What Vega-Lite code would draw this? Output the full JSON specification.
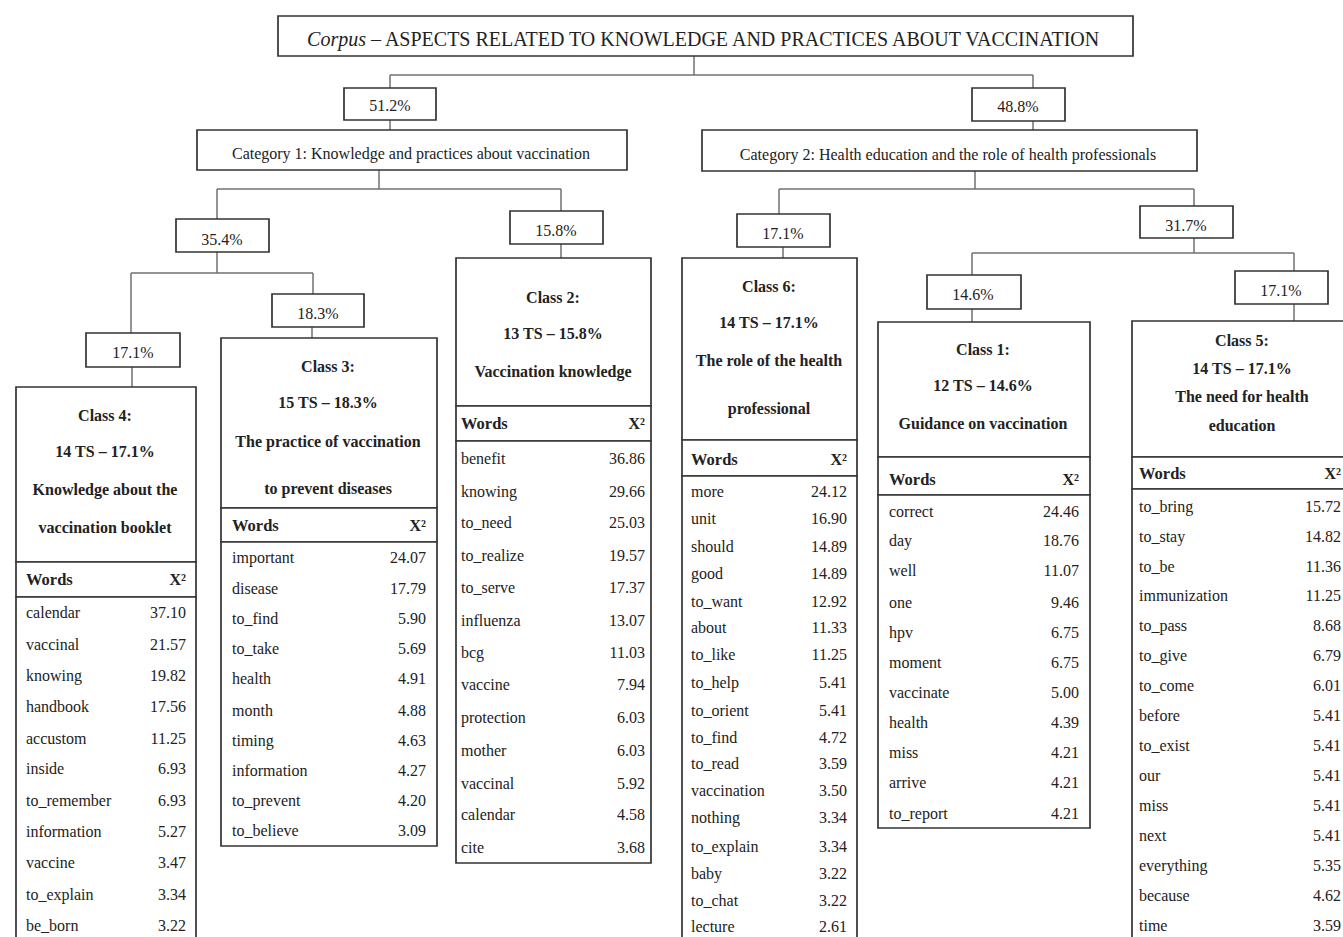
{
  "$schema": "https://vega.github.io/schema/vega-lite/v6.json",
  "width": 1343,
  "height": 937,
  "autosize": {"type": "none"},
  "padding": 0,
  "background": "white",
  "config": {"view": {"stroke": null}, "text": {"font": "Liberation Serif", "color": "#222222", "fontSize": 16, "baseline": "middle"}},
  "datasets": {
    "links": [
      {"x": 694, "y": 56, "x2": 694, "y2": 75},
      {"x": 390, "y": 75, "x2": 1033, "y2": 75},
      {"x": 390, "y": 75, "x2": 390, "y2": 88},
      {"x": 1033, "y": 75, "x2": 1033, "y2": 88},
      {"x": 390, "y": 120, "x2": 390, "y2": 130},
      {"x": 1033, "y": 121, "x2": 1033, "y2": 130},
      {"x": 379, "y": 170, "x2": 379, "y2": 189},
      {"x": 217, "y": 189, "x2": 561, "y2": 189},
      {"x": 217, "y": 189, "x2": 217, "y2": 219},
      {"x": 561, "y": 189, "x2": 561, "y2": 211},
      {"x": 561, "y": 244, "x2": 561, "y2": 258},
      {"x": 975, "y": 171, "x2": 975, "y2": 189},
      {"x": 779, "y": 189, "x2": 1194, "y2": 189},
      {"x": 779, "y": 189, "x2": 779, "y2": 214},
      {"x": 1194, "y": 189, "x2": 1194, "y2": 206},
      {"x": 783, "y": 247, "x2": 783, "y2": 258},
      {"x": 217, "y": 252, "x2": 217, "y2": 273},
      {"x": 131, "y": 273, "x2": 313, "y2": 273},
      {"x": 131, "y": 273, "x2": 131, "y2": 333},
      {"x": 313, "y": 273, "x2": 313, "y2": 294},
      {"x": 132, "y": 367, "x2": 132, "y2": 387},
      {"x": 312, "y": 327, "x2": 312, "y2": 338},
      {"x": 1194, "y": 238, "x2": 1194, "y2": 253},
      {"x": 972, "y": 253, "x2": 1294, "y2": 253},
      {"x": 972, "y": 253, "x2": 972, "y2": 275},
      {"x": 1294, "y": 253, "x2": 1294, "y2": 271},
      {"x": 972, "y": 309, "x2": 972, "y2": 322},
      {"x": 1294, "y": 304, "x2": 1294, "y2": 321}
    ],
    "boxes": [
      {"id": "title", "x": 278, "y": 16, "x2": 1133, "y2": 56},
      {"id": "p51", "x": 344, "y": 88, "x2": 436, "y2": 120},
      {"id": "p48", "x": 972, "y": 88, "x2": 1065, "y2": 121},
      {"id": "cat1", "x": 197, "y": 130, "x2": 627, "y2": 170},
      {"id": "cat2", "x": 702, "y": 130, "x2": 1197, "y2": 171},
      {"id": "p354", "x": 176, "y": 219, "x2": 269, "y2": 252},
      {"id": "p158", "x": 510, "y": 211, "x2": 603, "y2": 244},
      {"id": "p171c6", "x": 737, "y": 214, "x2": 830, "y2": 247},
      {"id": "p317", "x": 1140, "y": 206, "x2": 1233, "y2": 238},
      {"id": "p171c4", "x": 86, "y": 333, "x2": 180, "y2": 367},
      {"id": "p183", "x": 272, "y": 294, "x2": 364, "y2": 327},
      {"id": "p146", "x": 927, "y": 275, "x2": 1021, "y2": 309},
      {"id": "p171c5", "x": 1235, "y": 271, "x2": 1328, "y2": 304},
      {"id": "c4h", "x": 16, "y": 387, "x2": 196, "y2": 562},
      {"id": "c4t", "x": 16, "y": 562, "x2": 196, "y2": 597},
      {"id": "c4b", "x": 16, "y": 597, "x2": 196, "y2": 950},
      {"id": "c3h", "x": 221, "y": 338, "x2": 437, "y2": 508},
      {"id": "c3t", "x": 221, "y": 508, "x2": 437, "y2": 542},
      {"id": "c3b", "x": 221, "y": 542, "x2": 437, "y2": 846},
      {"id": "c2h", "x": 456, "y": 258, "x2": 651, "y2": 406},
      {"id": "c2t", "x": 456, "y": 406, "x2": 651, "y2": 441},
      {"id": "c2b", "x": 456, "y": 441, "x2": 651, "y2": 863},
      {"id": "c6h", "x": 682, "y": 258, "x2": 857, "y2": 440},
      {"id": "c6t", "x": 682, "y": 440, "x2": 857, "y2": 476},
      {"id": "c6b", "x": 682, "y": 476, "x2": 857, "y2": 950},
      {"id": "c1h", "x": 878, "y": 322, "x2": 1090, "y2": 457},
      {"id": "c1t", "x": 878, "y": 457, "x2": 1090, "y2": 495},
      {"id": "c1b", "x": 878, "y": 495, "x2": 1090, "y2": 828},
      {"id": "c5h", "x": 1132, "y": 321, "x2": 1360, "y2": 457},
      {"id": "c5t", "x": 1132, "y": 457, "x2": 1360, "y2": 489},
      {"id": "c5b", "x": 1132, "y": 489, "x2": 1360, "y2": 950}
    ],
    "labels": [
      {"text": "51.2%", "x": 390, "y": 106},
      {"text": "48.8%", "x": 1018, "y": 107},
      {"text": "Category 1: Knowledge and practices about vaccination", "x": 411, "y": 154},
      {"text": "Category 2: Health education and the role of health professionals", "x": 948, "y": 155},
      {"text": "35.4%", "x": 222, "y": 240},
      {"text": "15.8%", "x": 556, "y": 231},
      {"text": "17.1%", "x": 783, "y": 234},
      {"text": "31.7%", "x": 1186, "y": 226},
      {"text": "17.1%", "x": 133, "y": 353},
      {"text": "18.3%", "x": 318, "y": 314},
      {"text": "14.6%", "x": 973, "y": 295},
      {"text": "17.1%", "x": 1281, "y": 291}
    ],
    "heads": [
      {"text": "Class 4:", "x": 105, "y": 416},
      {"text": "14 TS – 17.1%", "x": 105, "y": 452},
      {"text": "Knowledge about the", "x": 105, "y": 490},
      {"text": "vaccination booklet", "x": 105, "y": 528},
      {"text": "Class 3:", "x": 328, "y": 367},
      {"text": "15 TS – 18.3%", "x": 328, "y": 403},
      {"text": "The practice of vaccination", "x": 328, "y": 442},
      {"text": "to prevent diseases", "x": 328, "y": 489},
      {"text": "Class 2:", "x": 553, "y": 298},
      {"text": "13 TS – 15.8%", "x": 553, "y": 334},
      {"text": "Vaccination knowledge", "x": 553, "y": 372},
      {"text": "Class 6:", "x": 769, "y": 287},
      {"text": "14 TS – 17.1%", "x": 769, "y": 323},
      {"text": "The role of the health", "x": 769, "y": 361},
      {"text": "professional", "x": 769, "y": 409},
      {"text": "Class 1:", "x": 983, "y": 350},
      {"text": "12 TS – 14.6%", "x": 983, "y": 386},
      {"text": "Guidance on vaccination", "x": 983, "y": 424},
      {"text": "Class 5:", "x": 1242, "y": 341},
      {"text": "14 TS – 17.1%", "x": 1242, "y": 369},
      {"text": "The need for health", "x": 1242, "y": 397},
      {"text": "education", "x": 1242, "y": 426}
    ],
    "theads": [
      {"cls": "Class 4", "xl": 26, "xr": 186, "y": 580},
      {"cls": "Class 3", "xl": 232, "xr": 426, "y": 526},
      {"cls": "Class 2", "xl": 461, "xr": 645, "y": 424},
      {"cls": "Class 6", "xl": 691, "xr": 847, "y": 460},
      {"cls": "Class 1", "xl": 889, "xr": 1079, "y": 480},
      {"cls": "Class 5", "xl": 1139, "xr": 1341, "y": 474}
    ],
    "words": [
      {"cls": "Class 4", "word": "calendar", "chi2": 37.10, "xl": 26, "xr": 186, "y": 613},
      {"cls": "Class 4", "word": "vaccinal", "chi2": 21.57, "xl": 26, "xr": 186, "y": 645},
      {"cls": "Class 4", "word": "knowing", "chi2": 19.82, "xl": 26, "xr": 186, "y": 676},
      {"cls": "Class 4", "word": "handbook", "chi2": 17.56, "xl": 26, "xr": 186, "y": 707},
      {"cls": "Class 4", "word": "accustom", "chi2": 11.25, "xl": 26, "xr": 186, "y": 739},
      {"cls": "Class 4", "word": "inside", "chi2": 6.93, "xl": 26, "xr": 186, "y": 769},
      {"cls": "Class 4", "word": "to_remember", "chi2": 6.93, "xl": 26, "xr": 186, "y": 801},
      {"cls": "Class 4", "word": "information", "chi2": 5.27, "xl": 26, "xr": 186, "y": 832},
      {"cls": "Class 4", "word": "vaccine", "chi2": 3.47, "xl": 26, "xr": 186, "y": 863},
      {"cls": "Class 4", "word": "to_explain", "chi2": 3.34, "xl": 26, "xr": 186, "y": 895},
      {"cls": "Class 4", "word": "be_born", "chi2": 3.22, "xl": 26, "xr": 186, "y": 926},
      {"cls": "Class 3", "word": "important", "chi2": 24.07, "xl": 232, "xr": 426, "y": 558},
      {"cls": "Class 3", "word": "disease", "chi2": 17.79, "xl": 232, "xr": 426, "y": 589},
      {"cls": "Class 3", "word": "to_find", "chi2": 5.90, "xl": 232, "xr": 426, "y": 619},
      {"cls": "Class 3", "word": "to_take", "chi2": 5.69, "xl": 232, "xr": 426, "y": 649},
      {"cls": "Class 3", "word": "health", "chi2": 4.91, "xl": 232, "xr": 426, "y": 679},
      {"cls": "Class 3", "word": "month", "chi2": 4.88, "xl": 232, "xr": 426, "y": 711},
      {"cls": "Class 3", "word": "timing", "chi2": 4.63, "xl": 232, "xr": 426, "y": 741},
      {"cls": "Class 3", "word": "information", "chi2": 4.27, "xl": 232, "xr": 426, "y": 771},
      {"cls": "Class 3", "word": "to_prevent", "chi2": 4.20, "xl": 232, "xr": 426, "y": 801},
      {"cls": "Class 3", "word": "to_believe", "chi2": 3.09, "xl": 232, "xr": 426, "y": 831},
      {"cls": "Class 2", "word": "benefit", "chi2": 36.86, "xl": 461, "xr": 645, "y": 459},
      {"cls": "Class 2", "word": "knowing", "chi2": 29.66, "xl": 461, "xr": 645, "y": 492},
      {"cls": "Class 2", "word": "to_need", "chi2": 25.03, "xl": 461, "xr": 645, "y": 523},
      {"cls": "Class 2", "word": "to_realize", "chi2": 19.57, "xl": 461, "xr": 645, "y": 556},
      {"cls": "Class 2", "word": "to_serve", "chi2": 17.37, "xl": 461, "xr": 645, "y": 588},
      {"cls": "Class 2", "word": "influenza", "chi2": 13.07, "xl": 461, "xr": 645, "y": 621},
      {"cls": "Class 2", "word": "bcg", "chi2": 11.03, "xl": 461, "xr": 645, "y": 653},
      {"cls": "Class 2", "word": "vaccine", "chi2": 7.94, "xl": 461, "xr": 645, "y": 685},
      {"cls": "Class 2", "word": "protection", "chi2": 6.03, "xl": 461, "xr": 645, "y": 718},
      {"cls": "Class 2", "word": "mother", "chi2": 6.03, "xl": 461, "xr": 645, "y": 751},
      {"cls": "Class 2", "word": "vaccinal", "chi2": 5.92, "xl": 461, "xr": 645, "y": 784},
      {"cls": "Class 2", "word": "calendar", "chi2": 4.58, "xl": 461, "xr": 645, "y": 815},
      {"cls": "Class 2", "word": "cite", "chi2": 3.68, "xl": 461, "xr": 645, "y": 848},
      {"cls": "Class 6", "word": "more", "chi2": 24.12, "xl": 691, "xr": 847, "y": 492},
      {"cls": "Class 6", "word": "unit", "chi2": 16.90, "xl": 691, "xr": 847, "y": 519},
      {"cls": "Class 6", "word": "should", "chi2": 14.89, "xl": 691, "xr": 847, "y": 547},
      {"cls": "Class 6", "word": "good", "chi2": 14.89, "xl": 691, "xr": 847, "y": 574},
      {"cls": "Class 6", "word": "to_want", "chi2": 12.92, "xl": 691, "xr": 847, "y": 602},
      {"cls": "Class 6", "word": "about", "chi2": 11.33, "xl": 691, "xr": 847, "y": 628},
      {"cls": "Class 6", "word": "to_like", "chi2": 11.25, "xl": 691, "xr": 847, "y": 655},
      {"cls": "Class 6", "word": "to_help", "chi2": 5.41, "xl": 691, "xr": 847, "y": 683},
      {"cls": "Class 6", "word": "to_orient", "chi2": 5.41, "xl": 691, "xr": 847, "y": 711},
      {"cls": "Class 6", "word": "to_find", "chi2": 4.72, "xl": 691, "xr": 847, "y": 738},
      {"cls": "Class 6", "word": "to_read", "chi2": 3.59, "xl": 691, "xr": 847, "y": 764},
      {"cls": "Class 6", "word": "vaccination", "chi2": 3.50, "xl": 691, "xr": 847, "y": 791},
      {"cls": "Class 6", "word": "nothing", "chi2": 3.34, "xl": 691, "xr": 847, "y": 818},
      {"cls": "Class 6", "word": "to_explain", "chi2": 3.34, "xl": 691, "xr": 847, "y": 847},
      {"cls": "Class 6", "word": "baby", "chi2": 3.22, "xl": 691, "xr": 847, "y": 874},
      {"cls": "Class 6", "word": "to_chat", "chi2": 3.22, "xl": 691, "xr": 847, "y": 901},
      {"cls": "Class 6", "word": "lecture", "chi2": 2.61, "xl": 691, "xr": 847, "y": 927},
      {"cls": "Class 1", "word": "correct", "chi2": 24.46, "xl": 889, "xr": 1079, "y": 512},
      {"cls": "Class 1", "word": "day", "chi2": 18.76, "xl": 889, "xr": 1079, "y": 541},
      {"cls": "Class 1", "word": "well", "chi2": 11.07, "xl": 889, "xr": 1079, "y": 571},
      {"cls": "Class 1", "word": "one", "chi2": 9.46, "xl": 889, "xr": 1079, "y": 603},
      {"cls": "Class 1", "word": "hpv", "chi2": 6.75, "xl": 889, "xr": 1079, "y": 633},
      {"cls": "Class 1", "word": "moment", "chi2": 6.75, "xl": 889, "xr": 1079, "y": 663},
      {"cls": "Class 1", "word": "vaccinate", "chi2": 5.00, "xl": 889, "xr": 1079, "y": 693},
      {"cls": "Class 1", "word": "health", "chi2": 4.39, "xl": 889, "xr": 1079, "y": 723},
      {"cls": "Class 1", "word": "miss", "chi2": 4.21, "xl": 889, "xr": 1079, "y": 753},
      {"cls": "Class 1", "word": "arrive", "chi2": 4.21, "xl": 889, "xr": 1079, "y": 783},
      {"cls": "Class 1", "word": "to_report", "chi2": 4.21, "xl": 889, "xr": 1079, "y": 814},
      {"cls": "Class 5", "word": "to_bring", "chi2": 15.72, "xl": 1139, "xr": 1341, "y": 507},
      {"cls": "Class 5", "word": "to_stay", "chi2": 14.82, "xl": 1139, "xr": 1341, "y": 537},
      {"cls": "Class 5", "word": "to_be", "chi2": 11.36, "xl": 1139, "xr": 1341, "y": 567},
      {"cls": "Class 5", "word": "immunization", "chi2": 11.25, "xl": 1139, "xr": 1341, "y": 596},
      {"cls": "Class 5", "word": "to_pass", "chi2": 8.68, "xl": 1139, "xr": 1341, "y": 626},
      {"cls": "Class 5", "word": "to_give", "chi2": 6.79, "xl": 1139, "xr": 1341, "y": 656},
      {"cls": "Class 5", "word": "to_come", "chi2": 6.01, "xl": 1139, "xr": 1341, "y": 686},
      {"cls": "Class 5", "word": "before", "chi2": 5.41, "xl": 1139, "xr": 1341, "y": 716},
      {"cls": "Class 5", "word": "to_exist", "chi2": 5.41, "xl": 1139, "xr": 1341, "y": 746},
      {"cls": "Class 5", "word": "our", "chi2": 5.41, "xl": 1139, "xr": 1341, "y": 776},
      {"cls": "Class 5", "word": "miss", "chi2": 5.41, "xl": 1139, "xr": 1341, "y": 806},
      {"cls": "Class 5", "word": "next", "chi2": 5.41, "xl": 1139, "xr": 1341, "y": 836},
      {"cls": "Class 5", "word": "everything", "chi2": 5.35, "xl": 1139, "xr": 1341, "y": 866},
      {"cls": "Class 5", "word": "because", "chi2": 4.62, "xl": 1139, "xr": 1341, "y": 896},
      {"cls": "Class 5", "word": "time", "chi2": 3.59, "xl": 1139, "xr": 1341, "y": 926}
    ]
  },
  "layer": [
    {
      "data": {"name": "links"},
      "mark": {"type": "rule", "color": "#707070", "strokeWidth": 1.5, "clip": true},
      "encoding": {
        "x": {"field": "x", "type": "quantitative", "scale": {"domain": [0, 1343], "nice": false, "zero": false}, "axis": null},
        "y": {"field": "y", "type": "quantitative", "scale": {"domain": [0, 937], "nice": false, "zero": false, "reverse": true}, "axis": null},
        "x2": {"field": "x2"},
        "y2": {"field": "y2"}
      }
    },
    {
      "data": {"name": "boxes"},
      "mark": {"type": "rect", "fill": "white", "stroke": "#333333", "strokeWidth": 1.7, "clip": true},
      "encoding": {
        "x": {"field": "x", "type": "quantitative", "axis": null},
        "y": {"field": "y", "type": "quantitative", "axis": null},
        "x2": {"field": "x2"},
        "y2": {"field": "y2"}
      }
    },
    {
      "data": {"values": [{"text": "Corpus", "x": 366, "y": 40}]},
      "mark": {"type": "text", "align": "right", "fontSize": 20, "fontStyle": "italic"},
      "encoding": {
        "x": {"field": "x", "type": "quantitative", "axis": null},
        "y": {"field": "y", "type": "quantitative", "axis": null},
        "text": {"field": "text"}
      }
    },
    {
      "data": {"values": [{"text": "– ASPECTS RELATED TO KNOWLEDGE AND PRACTICES ABOUT VACCINATION", "x": 371, "y": 40}]},
      "mark": {"type": "text", "align": "left", "fontSize": 20},
      "encoding": {
        "x": {"field": "x", "type": "quantitative", "axis": null},
        "y": {"field": "y", "type": "quantitative", "axis": null},
        "text": {"field": "text"}
      }
    },
    {
      "data": {"name": "labels"},
      "mark": {"type": "text", "align": "center", "fontSize": 16},
      "encoding": {
        "x": {"field": "x", "type": "quantitative", "axis": null},
        "y": {"field": "y", "type": "quantitative", "axis": null},
        "text": {"field": "text"}
      }
    },
    {
      "data": {"name": "heads"},
      "mark": {"type": "text", "align": "center", "fontSize": 16, "fontWeight": "bold"},
      "encoding": {
        "x": {"field": "x", "type": "quantitative", "axis": null},
        "y": {"field": "y", "type": "quantitative", "axis": null},
        "text": {"field": "text"}
      }
    },
    {
      "data": {"name": "theads"},
      "mark": {"type": "text", "align": "left", "fontSize": 16.5, "fontWeight": "bold"},
      "encoding": {
        "x": {"field": "xl", "type": "quantitative", "axis": null},
        "y": {"field": "y", "type": "quantitative", "axis": null},
        "text": {"value": "Words"}
      }
    },
    {
      "data": {"name": "theads"},
      "mark": {"type": "text", "align": "right", "fontSize": 16.5, "fontWeight": "bold"},
      "encoding": {
        "x": {"field": "xr", "type": "quantitative", "axis": null},
        "y": {"field": "y", "type": "quantitative", "axis": null},
        "text": {"value": "X²"}
      }
    },
    {
      "data": {"name": "words"},
      "mark": {"type": "text", "align": "left", "fontSize": 16},
      "encoding": {
        "x": {"field": "xl", "type": "quantitative", "axis": null},
        "y": {"field": "y", "type": "quantitative", "axis": null},
        "text": {"field": "word"}
      }
    },
    {
      "data": {"name": "words"},
      "mark": {"type": "text", "align": "right", "fontSize": 16},
      "encoding": {
        "x": {"field": "xr", "type": "quantitative", "axis": null},
        "y": {"field": "y", "type": "quantitative", "axis": null},
        "text": {"field": "chi2", "type": "quantitative", "format": ".2f"}
      }
    }
  ]
}
